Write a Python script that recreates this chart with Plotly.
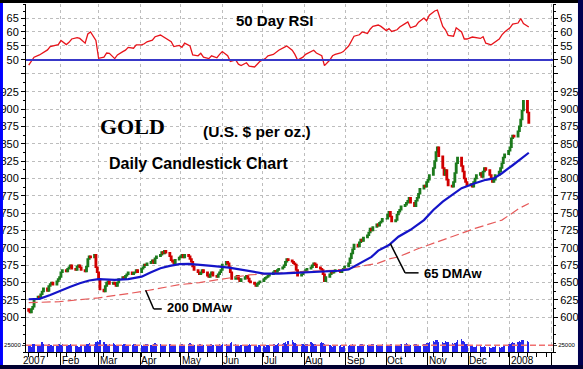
import pandas as pd
import plotly.graph_objects as go

# ---------------- data ----------------
month_spans = [("2007-01-08", "2007-01-31"), ("2007-02-01", "2007-02-28"), ("2007-03-01", "2007-03-31"),
               ("2007-04-01", "2007-04-30"), ("2007-05-01", "2007-05-31"), ("2007-06-01", "2007-06-30"),
               ("2007-07-01", "2007-07-31"), ("2007-08-01", "2007-08-31"), ("2007-09-01", "2007-09-30"),
               ("2007-10-01", "2007-10-31"), ("2007-11-01", "2007-11-30"), ("2007-12-01", "2007-12-31"),
               ("2008-01-01", "2008-01-15")]

close_jan07 = [609, 607, 612, 615, 626, 630, 628, 633, 637, 642, 638, 645, 648, 650, 647, 652, 655, 658]
close_feb07 = [665, 668, 666, 670, 672, 675, 670, 668, 673, 675, 672, 668, 666, 673, 684, 688, 686, 690, 672, 665]
close_mar07 = [655, 640, 637, 645, 650, 652, 648, 650, 648, 645, 650, 655, 658, 656, 660, 662, 665, 662, 664, 665, 668, 665]
close_apr07 = [670, 672, 676, 675, 678, 680, 682, 678, 685, 688, 690, 694, 692, 696, 693, 688, 682, 680, 678, 683, 686]
close_may07 = [688, 690, 686, 690, 688, 684, 680, 673, 668, 665, 662, 664, 668, 665, 660, 658, 662, 665, 660, 658, 662, 665, 668]
close_jun07 = [676, 680, 678, 672, 665, 655, 658, 660, 655, 652, 655, 658, 660, 656, 652, 650, 648, 645, 648, 650, 652]
close_jul07 = [655, 657, 658, 660, 662, 665, 667, 665, 668, 670, 672, 675, 680, 684, 682, 680, 678, 676, 668, 660, 662, 665]
close_aug07 = [666, 668, 670, 672, 675, 678, 676, 672, 670, 668, 662, 652, 658, 662, 665, 664, 666, 668, 667, 665, 668, 670, 673]
close_sep07 = [678, 685, 692, 698, 705, 702, 708, 712, 710, 715, 718, 722, 728, 725, 730, 734, 732, 736, 738, 742]
close_oct07 = [742, 748, 752, 745, 738, 740, 748, 752, 755, 760, 762, 765, 768, 772, 765, 760, 768, 772, 778, 785, 790, 788, 795]
close_nov07 = [798, 805, 815, 825, 838, 845, 832, 815, 805, 812, 798, 790, 788, 795, 808, 822, 830, 818, 810, 800, 795, 790]
close_dec07 = [792, 788, 795, 800, 805, 808, 802, 810, 815, 812, 805, 800, 795, 798, 805, 810, 815, 822, 830, 835, 840]
close_jan08 = [845, 858, 862, 860, 868, 875, 885, 898, 912, 895, 880]
first_open = 612

vol_jan07 = [22, 25, 20, 28, 30, 24, 26, 22, 35, 28, 25, 30, 27, 24, 22, 26, 28, 30]
vol_feb07 = [25, 28, 24, 22, 26, 30, 27, 24, 22, 20, 18, 24, 26, 28, 30, 32, 26, 28, 35, 40]
vol_mar07 = [38, 42, 36, 30, 28, 26, 30, 34, 28, 26, 24, 22, 26, 28, 30, 27, 25, 24, 30, 28, 26, 25]
vol_apr07 = [24, 22, 26, 28, 30, 25, 24, 28, 32, 30, 28, 26, 24, 22, 26, 28, 25, 24, 26, 22, 24]
vol_may07 = [26, 28, 24, 22, 30, 32, 28, 26, 24, 22, 28, 30, 26, 24, 22, 25, 28, 30, 24, 22, 26, 28, 24]
vol_jun07 = [30, 28, 26, 24, 32, 36, 28, 26, 24, 22, 26, 24, 22, 25, 28, 26, 24, 22, 20, 24, 26]
vol_jul07 = [22, 20, 24, 26, 25, 28, 30, 26, 28, 32, 30, 34, 36, 30, 40, 45, 38, 32, 28, 26, 30, 28]
vol_aug07 = [26, 30, 28, 35, 32, 30, 28, 26, 32, 36, 34, 30, 26, 24, 22, 20, 24, 26, 22, 24, 20, 22, 24]
vol_sep07 = [22, 24, 26, 28, 24, 22, 26, 28, 30, 25, 24, 22, 26, 28, 30, 26, 24, 22, 26, 28]
vol_oct07 = [24, 22, 26, 28, 30, 26, 24, 22, 26, 28, 30, 32, 28, 26, 24, 28, 30, 26, 24, 22, 28, 30, 32]
vol_nov07 = [34, 38, 40, 36, 42, 45, 38, 36, 34, 40, 38, 36, 32, 30, 34, 38, 44, 46, 40, 36, 30, 28]
vol_dec07 = [22, 24, 20, 18, 22, 24, 20, 18, 22, 20, 18, 16, 18, 20, 22, 18, 16, 20, 24, 26, 28]
vol_jan08 = [30, 34, 36, 32, 38, 40, 36, 42, 44, 40, 38]
vol_avg_level = 25

# RSI, one reading every second trading day
rsi_50day = [48.2, 49.4, 51.0, 51.8, 52.4, 53.6, 54.8, 55.0, 55.5, 57.0, 55.5, 56.3, 57.5, 58.0, 57.7, 56.0,
             59.3, 60.0, 57.0, 50.6, 51.0, 52.5, 52.4, 50.5, 51.8, 53.0, 53.5, 54.5, 54.2, 55.4, 55.4, 55.8,
             56.5, 57.1, 58.3, 58.9, 58.3, 57.7, 56.5, 54.8, 55.2, 54.5, 56.0, 55.0, 51.8, 51.5, 52.4, 51.0,
             50.5, 51.5, 50.8, 52.0, 53.0, 51.5, 49.5, 50.0, 48.5, 48.0, 49.0, 47.8, 47.5, 48.5, 49.5, 50.5,
             51.5, 52.0, 52.8, 53.5, 54.5, 55.0, 53.5, 52.0, 50.0, 51.0, 52.0, 53.0, 53.5, 52.5, 51.5, 48.0,
             50.0, 51.5, 52.0, 52.5, 53.0, 55.0, 57.0, 58.5, 59.0, 60.0, 59.5, 61.0, 62.0, 62.5, 62.0, 60.5,
             61.2, 60.2, 60.8, 61.8, 63.0, 63.6, 61.5, 62.2, 63.5, 65.0, 64.0, 66.0, 67.5, 67.8, 62.0, 60.8,
             58.8, 58.5, 61.5, 60.0, 57.5, 57.5, 58.2, 58.0, 57.7, 58.3, 56.0, 55.4, 56.0, 57.5, 59.0, 60.0,
             61.5, 62.8, 63.2, 64.8, 63.0, 61.8]

ma65_dates = ["2007-01-08", "2007-01-16", "2007-01-24", "2007-01-31", "2007-02-08", "2007-02-15", "2007-02-22",
              "2007-03-01", "2007-03-13", "2007-03-23", "2007-04-02", "2007-04-09", "2007-04-16", "2007-04-23",
              "2007-04-30", "2007-05-07", "2007-05-15", "2007-05-24", "2007-06-06", "2007-06-21", "2007-07-02",
              "2007-07-13", "2007-07-27", "2007-08-13", "2007-08-27", "2007-09-03", "2007-09-11", "2007-09-20",
              "2007-09-25", "2007-10-03", "2007-10-10", "2007-10-19", "2007-10-29", "2007-11-05", "2007-11-12",
              "2007-11-19", "2007-11-26", "2007-12-06", "2007-12-14", "2007-12-20", "2007-12-26", "2008-01-03",
              "2008-01-10", "2008-01-15"]
ma65_vals = [626, 626.5, 632, 638, 644, 649, 653, 655, 654, 655, 658.5, 665, 670.6, 674, 676.5, 677, 676, 674,
             671.5, 667, 663, 663, 664, 666, 667, 669, 678, 687, 696, 704, 716, 726, 740, 754.6, 766.6, 776, 786,
             793, 798, 800, 807.5, 819, 830, 837]

ma200_dates = ["2007-01-08", "2007-01-31", "2007-03-01", "2007-04-02", "2007-04-30", "2007-05-15", "2007-06-21",
               "2007-07-28", "2007-08-27", "2007-09-25", "2007-10-03", "2007-10-10", "2007-10-25", "2007-12-06",
               "2007-12-26", "2008-01-08", "2008-01-15"]
ma200_vals = [621, 622.5, 628, 637, 647, 650, 661, 665.7, 668, 678, 684, 687, 699, 728, 740, 757, 764]

month_ticks = ["2007-02-01", "2007-03-01", "2007-04-01", "2007-05-01", "2007-06-01", "2007-07-01", "2007-08-01",
               "2007-09-01", "2007-10-01", "2007-11-01", "2007-12-01", "2008-01-01", "2008-02-01"]
month_labels = ["Feb", "Mar", "Apr", "May", "Jun", "Jul", "Aug", "Sep", "Oct", "Nov", "Dec", "2008", ""]
first_label = "2007"
price_ticks = list(range(600, 926, 25))
rsi_ticks = [45, 50, 55, 60, 65]
rsi_labels = ["", "50", "55", "60", "65"]

# ---------------- assemble ----------------
closes_by_month = [close_jan07, close_feb07, close_mar07, close_apr07, close_may07, close_jun07, close_jul07,
                   close_aug07, close_sep07, close_oct07, close_nov07, close_dec07, close_jan08]
vols_by_month = [vol_jan07, vol_feb07, vol_mar07, vol_apr07, vol_may07, vol_jun07, vol_jul07, vol_aug07,
                 vol_sep07, vol_oct07, vol_nov07, vol_dec07, vol_jan08]
dates, closes, vols = [], [], []
for (s, e), cv, vv in zip(month_spans, closes_by_month, vols_by_month):
    d = list(pd.bdate_range(s, e))[:len(cv)]
    dates += d
    closes += cv
    vols += vv[:len(d)]
opens = [first_open] + closes[:-1]
highs = [max(o, c) for o, c in zip(opens, closes)]
lows = [min(o, c) for o, c in zip(opens, closes)]
rsi_dates = dates[::2][:len(rsi_50day)]

FONT = "Liberation Sans, Arial, sans-serif"
GRID = "#bdbdbd"

fig = go.Figure()
fig.add_trace(go.Scatter(x=rsi_dates, y=rsi_50day[:len(rsi_dates)], mode="lines",
                         line=dict(color="#e8141b", width=1.3), xaxis="x", yaxis="y", showlegend=False))
fig.add_trace(go.Candlestick(x=dates, open=opens, high=highs, low=lows, close=closes,
                             increasing=dict(line=dict(color="#1d7a1d", width=1.5), fillcolor="#3fae3f"),
                             decreasing=dict(line=dict(color="#d00000", width=1.5), fillcolor="#ff2a2a"),
                             whiskerwidth=0, xaxis="x", yaxis="y2", showlegend=False))
fig.add_trace(go.Scatter(x=ma200_dates, y=ma200_vals, mode="lines",
                         line=dict(color="#e65a5a", width=1.2, dash="9px,4px"),
                         xaxis="x", yaxis="y2", showlegend=False))
fig.add_trace(go.Scatter(x=ma65_dates, y=ma65_vals, mode="lines", line=dict(color="#1414c8", width=2.2),
                         xaxis="x", yaxis="y2", showlegend=False))
fig.add_trace(go.Bar(x=dates, y=vols, marker=dict(color="#2626ee", line=dict(width=0)),
                     width=1.0 * 86400000, xaxis="x", yaxis="y3", showlegend=False))
# invisible carriers for the right-hand axes
for ya in ["y4", "y5", "y6"]:
    fig.add_trace(go.Scatter(x=[dates[0]], y=[None], mode="lines", xaxis="x", yaxis=ya,
                             showlegend=False, hoverinfo="skip"))

yrsi = dict(range=[44.64, 70], tickvals=rsi_ticks, ticktext=rsi_labels)
yprice = dict(range=[550, 949], tickvals=price_ticks)
common_y = dict(showline=True, linecolor="black", linewidth=1, ticks="outside", ticklen=4, tickcolor="black",
                tickfont=dict(family=FONT, size=11, color="black"), zeroline=False, fixedrange=True,
                automargin=False)
vol_y = dict(range=[0, 80], tickvals=[vol_avg_level], ticktext=["25000"], showgrid=False, showline=True,
             linecolor="black", ticks="outside", ticklen=3, tickfont=dict(family=FONT, size=6, color="black"),
             zeroline=False, automargin=False)

fig.update_layout(
    width=583, height=369, autosize=False,
    margin=dict(l=26, r=30, t=4, b=17, autoexpand=False),
    paper_bgcolor="white", plot_bgcolor="white",
    showlegend=False, bargap=0, boxgap=0, boxgroupgap=0,
    xaxis=dict(type="date", range=["2007-01-06", "2008-02-02"], anchor="y3", automargin=False,
               tickvals=month_ticks, showticklabels=False, ticks="outside", ticklen=12, tickcolor="black",
               showgrid=True, gridcolor=GRID, griddash="dot", gridwidth=1,
               showline=True, linecolor="black", linewidth=1, rangeslider=dict(visible=False),
               minor=dict(dtick=7 * 86400000, tick0="2007-01-08", ticklen=4, tickcolor="black", showgrid=False),
               fixedrange=True),
    yaxis=dict(domain=[0.796, 1], side="left", anchor="x", showgrid=True, gridcolor=GRID, griddash="dot",
               minor=dict(dtick=2.5, ticklen=2, tickcolor="black"), **yrsi, **common_y),
    yaxis2=dict(domain=[0, 0.796], side="left", anchor="x", showgrid=True, gridcolor=GRID, griddash="dot",
                minor=dict(dtick=12.5, ticklen=2, tickcolor="black"), **yprice, **common_y),
    yaxis3=dict(domain=[0, 0.063], side="left", anchor="x", **vol_y),
    yaxis4=dict(overlaying="y", side="right", anchor="x", showgrid=False,
                minor=dict(dtick=2.5, ticklen=2, tickcolor="black"), **yrsi, **common_y),
    yaxis5=dict(overlaying="y2", side="right", anchor="x", showgrid=False,
                minor=dict(dtick=12.5, ticklen=2, tickcolor="black"), **yprice, **common_y),
    yaxis6=dict(overlaying="y3", side="right", anchor="x", **vol_y),
)

shapes = [
    dict(type="line", xref="paper", x0=0, x1=1, yref="y", y0=50, y1=50, line=dict(color="#3838c8", width=2)),
    dict(type="line", xref="paper", x0=0, x1=1, yref="y3", y0=vol_avg_level, y1=vol_avg_level,
         line=dict(color="#f07070", width=1.5, dash="6px,3px")),
    # leader lines
    dict(type="line", xref="x", yref="y2", x0="2007-04-05", y0=639, x1="2007-04-11", y1=612,
         line=dict(color="black", width=1.5)),
    dict(type="line", xref="x", yref="y2", x0="2007-04-11", y0=612, x1="2007-04-17", y1=612,
         line=dict(color="black", width=1.5)),
    dict(type="line", xref="x", yref="y2", x0="2007-10-04", y0=706, x1="2007-10-15", y1=664,
         line=dict(color="black", width=1.5)),
    dict(type="line", xref="x", yref="y2", x0="2007-10-15", y0=664, x1="2007-10-25", y1=664,
         line=dict(color="black", width=1.5)),
    # frame
    dict(type="rect", xref="paper", yref="paper", x0=-0.0494, x1=-0.0437, y0=-0.049, y1=1.0115,
         fillcolor="#0000ff", line=dict(width=0), layer="above"),
    dict(type="rect", xref="paper", yref="paper", x0=-0.0494, x1=1.057, y0=1.003, y1=1.0115,
         fillcolor="#000000", line=dict(width=0), layer="above"),
    dict(type="rect", xref="paper", yref="paper", x0=1.0474, x1=1.057, y0=-0.049, y1=1.0115,
         fillcolor="#000050", line=dict(width=0), layer="above"),
    dict(type="rect", xref="paper", yref="paper", x0=-0.0494, x1=1.057, y0=-0.049, y1=-0.0374,
         fillcolor="#000030", line=dict(width=0), layer="above"),
]
fig.update_layout(shapes=shapes)

ann = []
for d, lab in zip(month_ticks, month_labels):
    if lab:
        ann.append(dict(x=d, xref="x", y=0, yref="paper", yanchor="top", xanchor="left", text=lab,
                        showarrow=False, xshift=-1, yshift=-1, font=dict(family=FONT, size=10, color="black")))
ann.append(dict(x=-0.009, xref="paper", y=0, yref="paper", yanchor="top", xanchor="left", text=first_label,
                showarrow=False, yshift=-1, font=dict(family=FONT, size=10, color="black")))
txt = [("<b>50 Day RSI</b>", 0.4725, 0.954, "center", FONT, 15),
       ("<b>GOLD</b>", 0.136, 0.649, "left", "Liberation Serif, Times New Roman, serif", 22),
       ("<b>(U.S. $ per oz.)</b>", 0.332, 0.633, "left", FONT, 15.5),
       ("<b>Daily Candlestick Chart</b>", 0.153, 0.543, "left", FONT, 16),
       ("<b>200 DMAw</b>", 0.263, 0.128, "left", FONT, 13),
       ("<b>65 DMAw</b>", 0.752, 0.226, "left", FONT, 13)]
for t, x, y, xa, fam, sz in txt:
    ann.append(dict(x=x, y=y, xref="paper", yref="paper", xanchor=xa, yanchor="middle", text=t,
                    showarrow=False, font=dict(family=fam, size=sz, color="black")))
fig.update_layout(annotations=ann)

fig.write_html("out.html", config={"displayModeBar": False, "staticPlot": True},
               post_script="document.body.style.margin='0';document.body.style.overflow='hidden';")
